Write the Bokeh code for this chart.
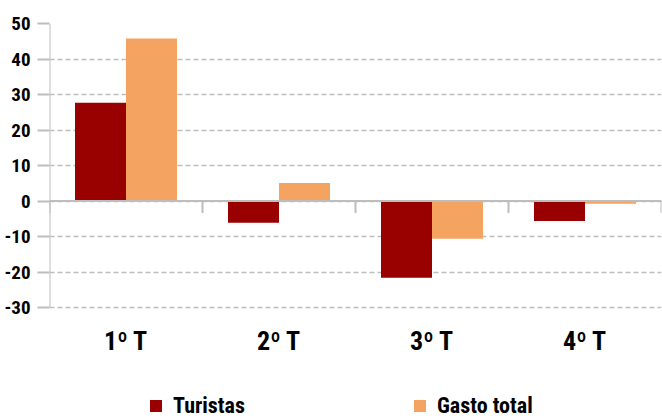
from bokeh.plotting import figure
from bokeh.models import (Range1d, FixedTicker, Span, Legend, LegendItem, ColumnDataSource)
from bokeh.core.properties import value
from bokeh.embed import file_html
from bokeh.resources import INLINE

categories = ["1º T", "2º T", "3º T", "4º T"]
turistas = [27.7, -6.1, -21.6, -5.6]
gasto_total = [45.8, 5.1, -10.6, -0.8]
y_ticks = [-30, -20, -10, 0, 10, 20, 30, 40, 50]

FONT = "Roboto Condensed"
RED = "#990000"
ORANGE = "#F4A460"
GREY = "#bdbdbd"

n = len(categories)
centers = [i + 0.5 for i in range(n)]
bw = 1 / 3

# layout: value axis spans 284 px; the frame continues below it to hold labels + legend
Y_MIN, Y_MAX = y_ticks[0], y_ticks[-1]
PX_PER_UNIT = 284 / (Y_MAX - Y_MIN)
EXTRA_PX = 112

src = ColumnDataSource(dict(
    xt=[c - bw / 2 for c in centers],
    xg=[c + bw / 2 for c in centers],
    t=turistas, g=gasto_total))

p = figure(output_backend="svg", toolbar_location=None,
           frame_width=612, frame_height=284 + EXTRA_PX,
           x_range=Range1d(0, n),
           y_range=Range1d(Y_MIN - EXTRA_PX / PX_PER_UNIT, Y_MAX),
           min_border_left=49, min_border_right=1, min_border_top=23,
           min_border_bottom=0, outline_line_color=None,
           background_fill_color="white", border_fill_color="white")

rt = p.vbar(x="xt", top="t", bottom=0, width=bw, source=src,
            fill_color=RED, line_color=None)
rg = p.vbar(x="xg", top="g", bottom=0, width=bw, source=src,
            fill_color=ORANGE, line_color=None)

# grid
p.xgrid.grid_line_color = None
p.ygrid.ticker = FixedTicker(ticks=y_ticks)
p.ygrid.grid_line_color = GREY
p.ygrid.grid_line_dash = "5 3"
p.ygrid.grid_line_width = 1.3

# zero line, y-axis line and category boundary ticks
p.add_layout(Span(location=0, dimension="width", line_color=GREY, line_width=2))
p.segment(x0=[0], x1=[0], y0=[Y_MIN], y1=[Y_MAX], line_color=GREY, line_width=2)
bounds = list(range(n + 1))
tick_len = 12 / PX_PER_UNIT
p.segment(x0=bounds, x1=bounds, y0=[0] * len(bounds), y1=[-tick_len] * len(bounds),
          line_color=GREY, line_width=2)

# y axis (labels + outward ticks)
ya = p.yaxis[0]
ya.ticker = FixedTicker(ticks=y_ticks)
ya.major_label_overrides = {t: str(t) for t in y_ticks}
ya.axis_line_color = None
ya.major_tick_line_color = GREY
ya.major_tick_line_width = 2
ya.major_tick_out = 12
ya.major_tick_in = 0
ya.minor_tick_line_color = None
ya.major_label_text_font = FONT
ya.major_label_text_font_style = "bold"
ya.major_label_text_font_size = "19px"
ya.major_label_text_color = "black"
ya.major_label_standoff = 7

p.xaxis.visible = False

# category labels
label_y = Y_MIN - 33 / PX_PER_UNIT
p.text(x=centers, y=[label_y] * n, text=categories,
       text_font=value(FONT), text_font_style="bold", text_font_size="26px",
       text_color="black", text_align="center", text_baseline="middle")

legend = Legend(items=[LegendItem(label="Turistas", renderers=[rt]),
                       LegendItem(label="Gasto total", renderers=[rg])],
                orientation="horizontal", location=(99, 1),
                spacing=167, glyph_width=15, glyph_height=15, label_standoff=10,
                label_text_font=FONT, label_text_font_style="bold",
                label_text_font_size="22px", label_text_color="black",
                border_line_color=None, background_fill_alpha=0,
                margin=0, padding=0)
p.add_layout(legend, "center")

open("out.html", "w").write(file_html(p, INLINE))
